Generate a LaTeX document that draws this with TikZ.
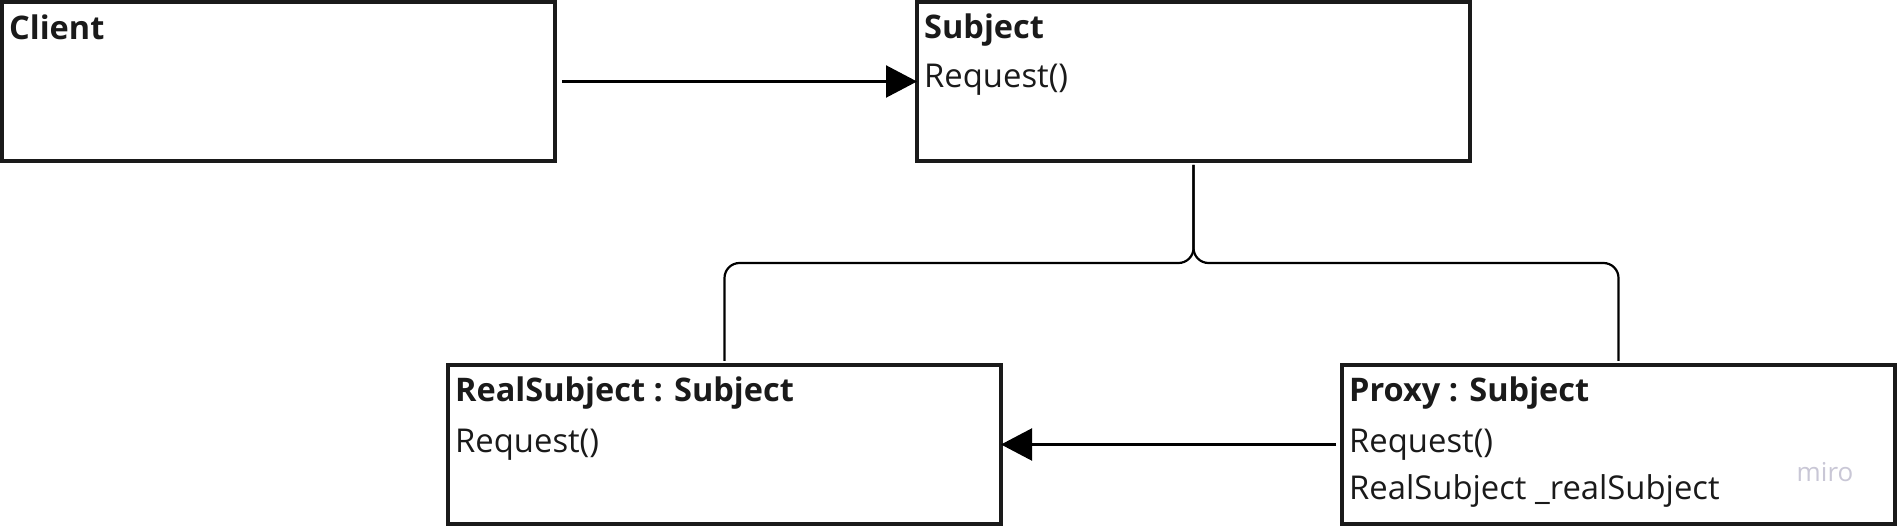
\documentclass[tikz,border=0pt]{standalone}
\usepackage{fontspec}
\setmainfont{Open Sans}
\usetikzlibrary{arrows.meta,calc}
\definecolor{ink}{HTML}{1A1A1A}
\definecolor{mirogray}{HTML}{C9C7D6}
\tikzset{
  umlbox/.style={draw=ink, line width=4pt, minimum width=553pt, minimum height=159pt,
    inner sep=0pt, outer sep=0pt, anchor=north west, fill=white},
  boxtitle/.style={anchor=base west, inner sep=0pt, font=\fontsize{32.5}{38}\selectfont\bfseries, text=ink},
  boxline/.style={anchor=base west, inner sep=0pt, font=\fontsize{32.8}{38}\selectfont, text=ink},
  conn/.style={draw=black, line width=2.2pt},
  arr/.style={conn, -{Triangle[length=31pt,width=32pt]}},
}
\begin{document}
\begin{tikzpicture}[x=1pt,y=-1pt]
\useasboundingbox[fill=white] (0,0) rectangle (1898,526);
% boxes
\node[umlbox] (client) at (2,2) {};
\node[umlbox] (subject) at (917,2) {};
\node[umlbox] (real) at (448,365) {};
\node[umlbox] (proxy) at (1342,365) {};
% texts
\node[boxtitle] (clientT) at ($(client.north west)+(7,38)$) {Client};
\node[boxtitle] (subjectT) at ($(subject.north west)+(7,37)$) {Subject};
\node[boxline] (subjectR) at ($(subject.north west)+(7,86)$) {Request()};
\node[boxtitle] (realT) at ($(real.north west)+(7,37)$) {RealSubject : Subject};
\node[boxline] (realR) at ($(real.north west)+(7,87)$) {Request()};
\node[boxtitle] (proxyT) at ($(proxy.north west)+(7,37)$) {Proxy : Subject};
\node[boxline] (proxyR) at ($(proxy.north west)+(7,87)$) {Request()};
\node[boxline] (proxyF) at ($(proxy.north west)+(7,134)$) {RealSubject \_realSubject};
\node[text=mirogray, inner sep=0pt, font=\fontsize{26}{30}\selectfont] (miro) at (1825,472) {miro};
% connectors
\draw[arr] ([xshift=7pt]client.east) -- (subject.west);
\draw[arr] ([xshift=-6pt]proxy.west) -- (real.east);
\coordinate (busL) at (real.north |- 0,263);
\coordinate (busR) at (proxy.north |- 0,263);
\draw[conn, rounded corners=15pt] ([yshift=-4pt]subject.south) |- (busL) -- ([yshift=4pt]real.north);
\draw[conn, rounded corners=15pt] ([yshift=-4pt]subject.south) |- (busR) -- ([yshift=4pt]proxy.north);
\end{tikzpicture}
\end{document}
